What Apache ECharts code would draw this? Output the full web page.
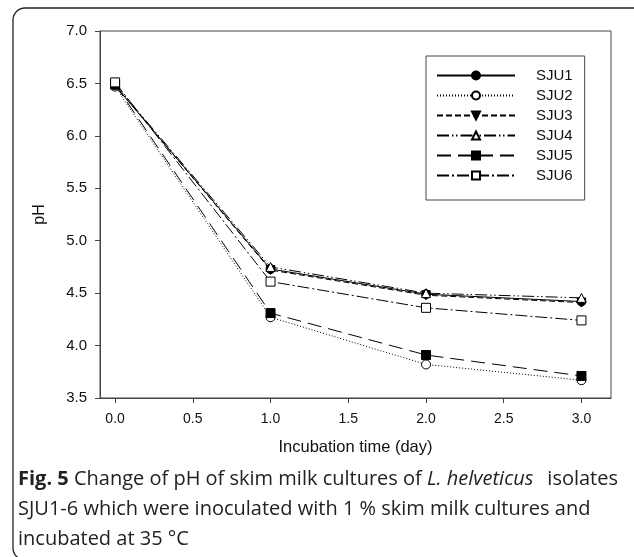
<!DOCTYPE html>
<html>
<head>
<meta charset="utf-8">
<script src="https://cdn.jsdelivr.net/npm/echarts@6/dist/echarts.min.js"></script>
<style>
  html, body { margin: 0; padding: 0; background: #fff; }
  #main { width: 634px; height: 557px; }
</style>
</head>
<body>
<div id="main"></div>
<script>
// incubation days and pH readings per isolate
const days = [0, 1, 2, 3];
const sju1 = [6.48, 4.73, 4.49, 4.42];
const sju2 = [6.47, 4.27, 3.82, 3.67];
const sju3 = [6.48, 4.72, 4.48, 4.41];
const sju4 = [6.49, 4.75, 4.50, 4.455];
const sju5 = [6.49, 4.31, 3.91, 3.71];
const sju6 = [6.51, 4.61, 4.36, 4.24];
const xTicks = [0, 0.5, 1, 1.5, 2, 2.5, 3];

const names = ["SJU1", "SJU2", "SJU3", "SJU4", "SJU5", "SJU6"];
const values = [sju1, sju2, sju3, sju4, sju5, sju6];

// marker + line style for each isolate
const looks = [
  { symbol: "circle", fill: "#000", dash: "solid" },
  { symbol: "circle", fill: "#fff", dash: [1, 2] },
  { symbol: "triangle", fill: "#000", dash: [6, 3], rotate: 180 },
  { symbol: "triangle", fill: "#fff", dash: [12, 3, 1.5, 2.5, 1.5, 3] },
  { symbol: "rect", fill: "#000", dash: [14, 7] },
  { symbol: "rect", fill: "#fff", dash: [12, 3, 2, 3] },
];

const seriesList = names.map((name, i) => ({
  type: "line",
  name: name,
  data: days.map((d, j) => [d, values[i][j]]),
  symbol: looks[i].symbol,
  symbolSize: 9,
  symbolRotate: looks[i].rotate || 0,
  showAllSymbol: true,
  animation: false,
  z: 2 + i,
  lineStyle: { color: "#000", width: 1, type: looks[i].dash },
  itemStyle: { color: looks[i].fill, borderColor: "#000", borderWidth: 1 },
}));

const font = "Liberation Sans";

const option = {
  backgroundColor: "#fff",
  animation: false,
  grid: {
    left: 100, top: 31, right: 23, bottom: 159,
    show: true, borderColor: "#444", borderWidth: 1,
  },
  legend: {
    orient: "vertical",
    left: 426, top: 56,
    itemWidth: 78, itemHeight: 10, itemGap: 5,
    padding: [12, 12, 17, 10],
    borderColor: "#444", borderWidth: 1,
    data: names,
    textStyle: {
      fontFamily: font, fontSize: 15, color: "#111",
      padding: [0, 0, 0, 16],
    },
  },
  xAxis: {
    type: "value",
    min: -0.097, max: 3.19,
    name: "Incubation time (day)",
    nameLocation: "middle", nameGap: 41,
    nameTextStyle: { fontFamily: font, fontSize: 16.5, color: "#111" },
    splitLine: { show: false },
    axisLine: { onZero: false, lineStyle: { color: "#444", width: 1 } },
    axisTick: { customValues: xTicks, length: 5, lineStyle: { color: "#444" } },
    axisLabel: {
      customValues: xTicks, margin: 14,
      fontFamily: font, fontSize: 14, color: "#111",
      formatter: (v) => v.toFixed(1),
    },
  },
  yAxis: {
    type: "value",
    min: 3.5, max: 7.0, interval: 0.5,
    name: "pH",
    nameLocation: "middle", nameGap: 52, nameRotate: 90,
    nameTextStyle: { fontFamily: font, fontSize: 16, color: "#111" },
    splitLine: { show: false },
    axisLine: { onZero: false, lineStyle: { color: "#444", width: 1 } },
    axisTick: { length: 5, lineStyle: { color: "#444" } },
    axisLabel: {
      margin: 13,
      fontFamily: font, fontSize: 15, color: "#111",
      formatter: (v) => v.toFixed(1),
    },
  },
  graphic: [
    {
      type: "rect", z: -1, silent: true,
      shape: { x: 13, y: 8, width: 640, height: 552, r: 12 },
      style: { fill: null, stroke: "#222", lineWidth: 1.3 },
    },
    {
      type: "text", left: 18, top: 469,
      style: {
        text: "{b|Fig. 5} Change of pH of skim milk cultures of {i|L. helveticus}",
        font: "20px 'Open Sans'", fill: "#222",
        rich: {
          b: { fontFamily: "Open Sans", fontWeight: "bold", fontSize: 20, fill: "#222" },
          i: { fontFamily: "Open Sans", fontStyle: "italic", fontSize: 20, fill: "#222" },
        },
      },
    },
    {
      type: "text", right: 16, top: 469,
      style: { text: "isolates", font: "20px 'Open Sans'", fill: "#222" },
    },
    {
      type: "text", left: 18, top: 499,
      style: {
        text: "SJU1-6 which were inoculated with 1 % skim milk cultures and",
        font: "20px 'Open Sans'", fill: "#222",
      },
    },
    {
      type: "text", left: 18, top: 529,
      style: { text: "incubated at 35 °C", font: "20px 'Open Sans'", fill: "#222" },
    },
  ],
  series: seriesList,
};

const chart = echarts.init(document.getElementById("main"), null, { renderer: "canvas" });
chart.setOption(option);
</script>
</body>
</html>
